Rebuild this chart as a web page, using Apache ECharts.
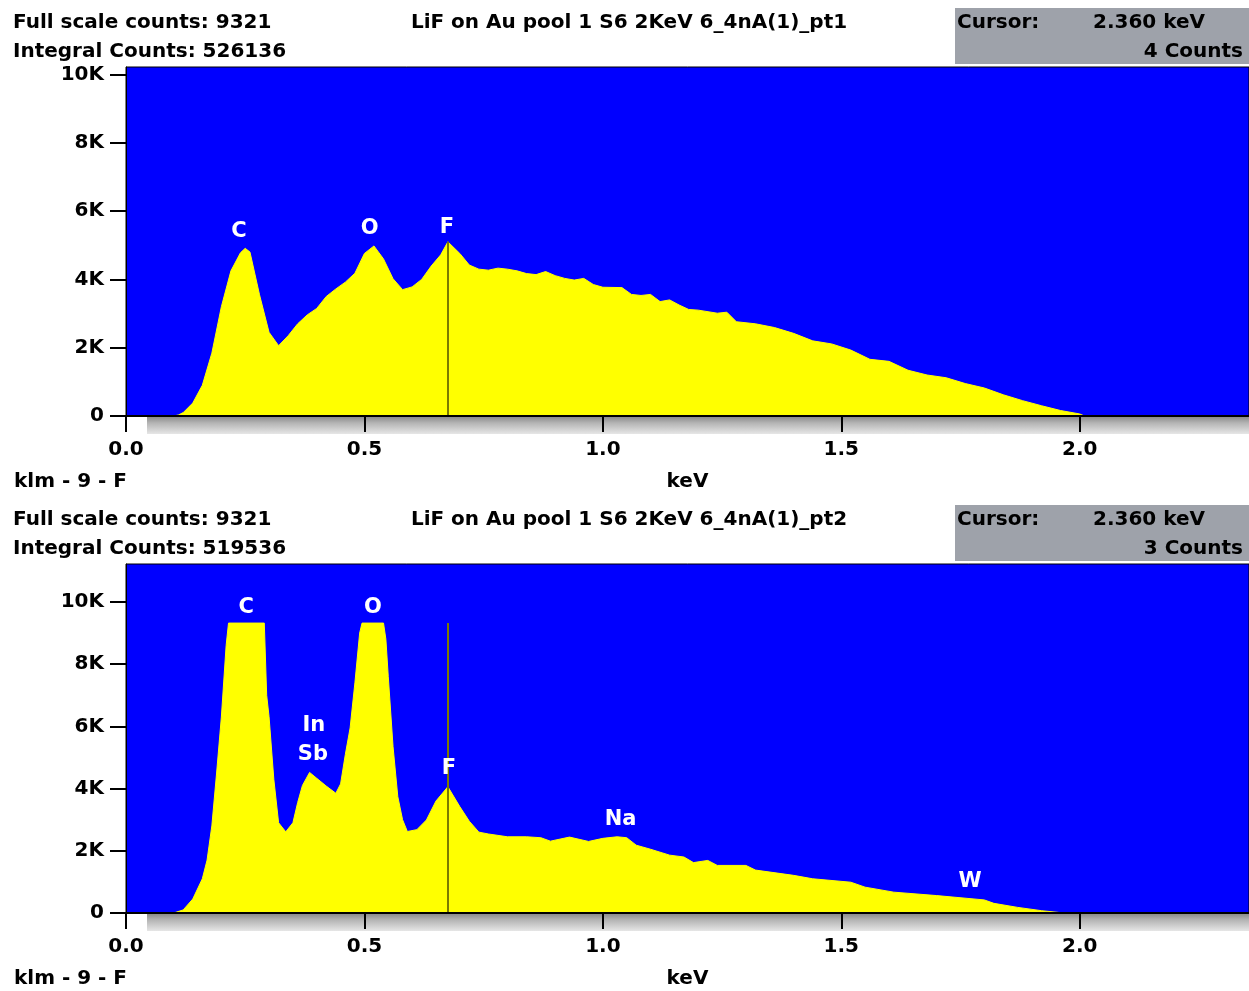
<!DOCTYPE html>
<html>
<head>
<meta charset="utf-8">
<script src="https://cdn.jsdelivr.net/npm/echarts@6/dist/echarts.min.js"></script>
<style>
  html, body { margin: 0; padding: 0; background: #fff; }
  #chart { width: 1249px; height: 991px; }
</style>
</head>
<body>
<div id="chart"></div>
<script>
// EDS spectra, two panels (pt1 / pt2)

// panel 1 : energy (keV) and counts
var topEnergy = [0, 0.10, 0.11, 0.12, 0.14, 0.16, 0.18, 0.20, 0.22, 0.24, 0.25, 0.26, 0.28, 0.30, 0.32, 0.34, 0.36, 0.38,
    0.40, 0.42, 0.44, 0.46, 0.48, 0.50, 0.52, 0.54, 0.56, 0.58, 0.60, 0.62, 0.64, 0.66, 0.675, 0.70, 0.72, 0.74,
    0.76, 0.78, 0.80, 0.82, 0.84, 0.86, 0.88, 0.90, 0.92, 0.94, 0.96, 0.98, 1.00, 1.04, 1.06, 1.08, 1.10, 1.12,
    1.14, 1.16, 1.18, 1.20, 1.24, 1.26, 1.28, 1.32, 1.36, 1.40, 1.44, 1.48, 1.52, 1.56, 1.60, 1.64, 1.68, 1.72,
    1.76, 1.80, 1.84, 1.88, 1.92, 1.96, 2.00, 2.01, 2.355];
var topCounts = [0, 0, 30, 100, 380, 900, 1840, 3200, 4250, 4780, 4910, 4800, 3550, 2450, 2060, 2350, 2700, 2960,
    3150, 3500, 3720, 3920, 4180, 4760, 4980, 4600, 4020, 3700, 3780, 4000, 4390, 4720, 5100, 4760, 4420, 4300,
    4270, 4330, 4300, 4250, 4170, 4140, 4230, 4110, 4030, 3980, 4030, 3850, 3770, 3760, 3560, 3530, 3560, 3350,
    3400, 3250, 3120, 3100, 3010, 3040, 2760, 2700, 2590, 2420, 2200, 2110, 1930, 1660, 1600, 1340, 1200, 1120,
    950, 820, 620, 450, 300, 160, 60, 0, 0];

// panel 2 : energy (keV) and counts (clipped at full scale 9321)
var botEnergy = [0, 0.10, 0.12, 0.14, 0.16, 0.17, 0.18, 0.19, 0.20, 0.21, 0.215, 0.29, 0.295, 0.30, 0.31, 0.32, 0.335,
    0.35, 0.36, 0.37, 0.385, 0.40, 0.42, 0.44, 0.45, 0.46, 0.47, 0.48, 0.49, 0.495, 0.54, 0.545, 0.55, 0.56, 0.57,
    0.58, 0.59, 0.61, 0.63, 0.65, 0.675, 0.70, 0.72, 0.74, 0.76, 0.80, 0.84, 0.87, 0.89, 0.93, 0.97, 1.00, 1.03,
    1.05, 1.07, 1.10, 1.14, 1.17, 1.19, 1.22, 1.24, 1.30, 1.32, 1.40, 1.44, 1.52, 1.55, 1.61, 1.70, 1.80, 1.82,
    1.87, 1.92, 1.955, 1.96, 2.355];
var botCounts = [0, 0, 100, 450, 1100, 1700, 2800, 4500, 6300, 8600, 9321, 9321, 7000, 6310, 4300, 2900, 2610,
    2900, 3550, 4100, 4520, 4330, 4080, 3850, 4150, 5100, 5950, 7400, 9000, 9321, 9321, 8800, 7600, 5350, 3740,
    3000, 2620, 2680, 2990, 3600, 4060, 3420, 2950, 2600, 2540, 2450, 2450, 2420, 2310, 2440, 2300, 2400, 2450,
    2420, 2180, 2050, 1860, 1800, 1620, 1690, 1530, 1530, 1380, 1210, 1100, 990, 830, 670, 560, 420, 310,
    180, 74, 20, 0, 0];

// peak labels : [element, keV, counts]
var topPeaks = [['C', 0.237, 5390], ['O', 0.511, 5480], ['F', 0.673, 5530]];
var botPeaks = [['C', 0.252, 9810], ['O', 0.518, 9810], ['In', 0.394, 6040], ['Sb', 0.392, 5110],
    ['F', 0.677, 4660], ['Na', 1.037, 2990], ['W', 1.77, 1000]];

// header texts
var titles = ['LiF on Au pool 1 S6 2KeV 6_4nA(1)_pt1', 'LiF on Au pool 1 S6 2KeV 6_4nA(1)_pt2'];
var fullScale = [9321, 9321];
var integral = [526136, 519536];
var cursorKeV = ['2.360', '2.360'];
var cursorCounts = [4, 3];
var cursorLine = [[0.675, 5100], [0.675, 9321]];   // marker line: keV, top
var yMax = [10220, 11220];
var yTicks = [0, 2000, 4000, 6000, 8000, 10000];

var chart = echarts.init(document.getElementById('chart'));

var FAMILY = '"DejaVu Sans", sans-serif';
var FONT = 'bold 20px ' + FAMILY;
var panelTop = [67, 564];
var plotH = 349;
var offs = [0, 497];

var grids = [], xAxes = [], yAxes = [], series = [], graphics = [];

for (var i = 0; i < 2; i++) {
    var energy = i === 0 ? topEnergy : botEnergy;
    var counts = i === 0 ? topCounts : botCounts;
    var peaks = i === 0 ? topPeaks : botPeaks;
    var pts = [];
    for (var k = 0; k < energy.length; k++) pts.push([energy[k], counts[k]]);

    grids.push({
        left: 126, width: 1123, top: panelTop[i], height: plotH,
        outerBoundsMode: 'none', containLabel: false,
        show: true, backgroundColor: '#0000ff', borderColor: '#000', borderWidth: 1
    });
    xAxes.push({
        gridIndex: i, type: 'value', min: 0, max: 2.355, interval: 0.5, z: 5,
        name: 'keV', nameLocation: 'middle', nameGap: 56,
        nameTextStyle: { color: '#000', fontWeight: 'bold', fontSize: 20, fontFamily: FAMILY },
        axisLine: { lineStyle: { color: '#000', width: 2 } },
        axisTick: { length: 16, lineStyle: { color: '#000', width: 2 } },
        axisLabel: {
            margin: 24, color: '#000', fontWeight: 'bold', fontSize: 20, fontFamily: FAMILY,
            showMaxLabel: false,
            formatter: function (v) { return v.toFixed(1); }
        },
        splitLine: { show: false }
    });
    yAxes.push({
        gridIndex: i, type: 'value', min: 0, max: yMax[i], interval: 2000, z: 5,
        axisLine: { show: true, lineStyle: { color: '#000', width: 1 } },
        axisTick: { length: 16, lineStyle: { color: '#000', width: 2 } },
        axisLabel: {
            margin: 22, color: '#000', fontWeight: 'bold', fontSize: 20, fontFamily: FAMILY,
            showMaxLabel: false,
            formatter: function (v) {
                if (yTicks.indexOf(v) < 0) return '';
                return v === 0 ? '0' : (v / 1000) + 'K';
            }
        },
        splitLine: { show: false }
    });

    series.push({
        type: 'line', xAxisIndex: i, yAxisIndex: i, data: pts,
        symbol: 'none', silent: true,
        lineStyle: { color: '#ffff00', width: 1 },
        areaStyle: { color: '#ffff00', opacity: 1 },
        markLine: {
            symbol: 'none', silent: true, label: { show: false },
            lineStyle: { color: '#7a7a00', width: 2, type: 'solid' },
            data: [[{ coord: [cursorLine[i][0], 0] }, { coord: [cursorLine[i][0], cursorLine[i][1]] }]]
        },
        markPoint: {
            symbol: 'circle', symbolSize: 0, silent: true,
            label: {
                show: true, color: '#fff', fontWeight: 'bold', fontSize: 21, fontFamily: FAMILY,
                formatter: function (p) { return p.name; }
            },
            data: peaks.map(function (p) { return { name: p[0], coord: [p[1], p[2]] }; })
        }
    });

    var o = offs[i];
    // grey strip under the energy axis
    graphics.push({
        type: 'rect', z: 1, shape: { x: 147, y: 417 + o, width: 1102, height: 17 },
        style: {
            fill: new echarts.graphic.LinearGradient(0, 0, 0, 1, [
                { offset: 0, color: '#8c8c8c' }, { offset: 0.35, color: '#b4b4b4' }, { offset: 1, color: '#e6e6e6' }
            ])
        }
    });
    // header
    graphics.push({ type: 'text', style: { text: 'Full scale counts: ' + fullScale[i], x: 13, y: 23 + o, font: FONT, fill: '#000', verticalAlign: 'middle' } });
    graphics.push({ type: 'text', style: { text: 'Integral Counts: ' + integral[i], x: 13, y: 52 + o, font: FONT, fill: '#000', verticalAlign: 'middle' } });
    graphics.push({ type: 'text', style: { text: titles[i], x: 629, y: 23 + o, font: FONT, fill: '#000', align: 'center', verticalAlign: 'middle' } });
    graphics.push({ type: 'rect', shape: { x: 955, y: 8 + o, width: 294, height: 56 }, style: { fill: '#9ea2aa' } });
    graphics.push({ type: 'text', style: { text: 'Cursor:', x: 957, y: 23 + o, font: FONT, fill: '#000', verticalAlign: 'middle' } });
    graphics.push({ type: 'text', style: { text: cursorKeV[i] + ' keV', x: 1205, y: 23 + o, font: FONT, fill: '#000', align: 'right', verticalAlign: 'middle' } });
    graphics.push({ type: 'text', style: { text: cursorCounts[i] + ' Counts', x: 1243, y: 52 + o, font: FONT, fill: '#000', align: 'right', verticalAlign: 'middle' } });
    graphics.push({ type: 'text', style: { text: 'klm - 9 - F', x: 14, y: 482 + o, font: FONT, fill: '#000', verticalAlign: 'middle' } });
}

var option = {
    animation: false,
    backgroundColor: '#fff',
    grid: grids,
    xAxis: xAxes,
    yAxis: yAxes,
    series: series,
    graphic: graphics
};

chart.setOption(option);
</script>
</body>
</html>
